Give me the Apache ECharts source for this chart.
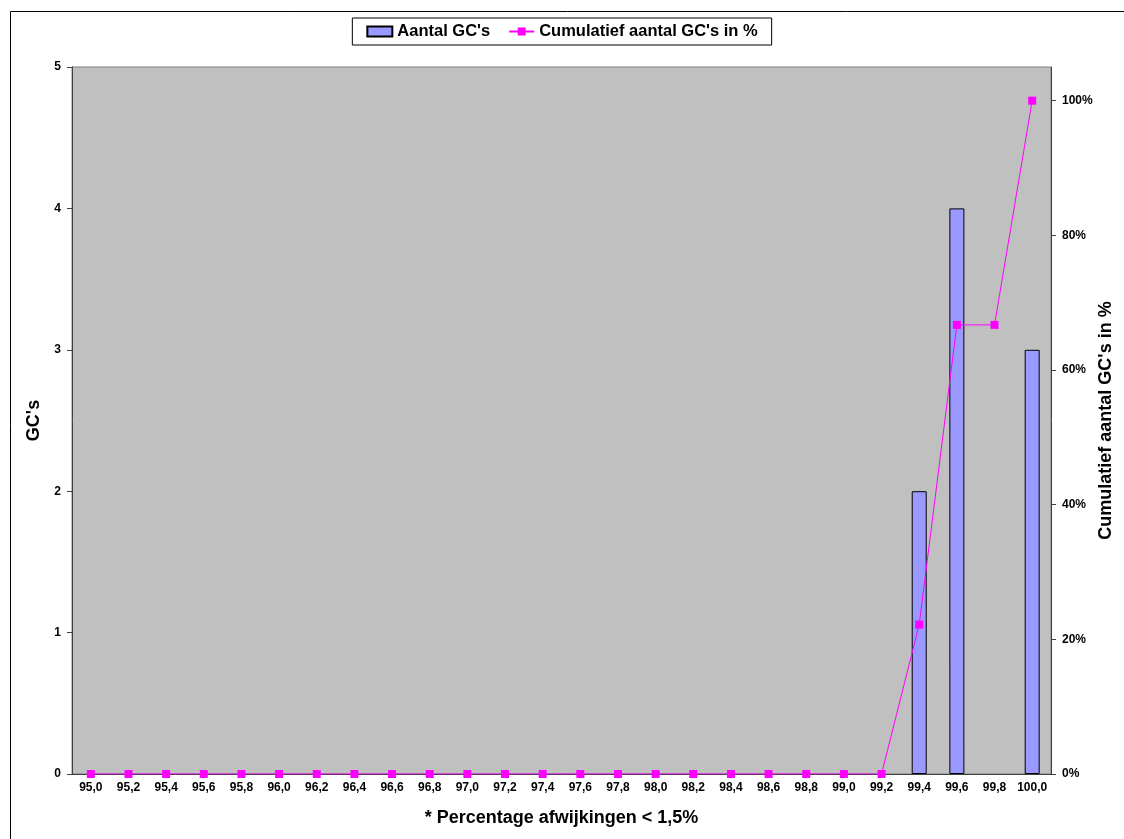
<!DOCTYPE html>
<html>
<head>
<meta charset="utf-8">
<script src="https://cdn.jsdelivr.net/npm/echarts@6/dist/echarts.min.js"></script>
<style>html,body{margin:0;padding:0;background:#fff;}#c{width:1124px;height:839px;}</style>
</head>
<body>
<div id="c"></div>
<script>
var categories = ['95,0','95,2','95,4','95,6','95,8','96,0','96,2','96,4','96,6','96,8','97,0','97,2','97,4','97,6','97,8','98,0','98,2','98,4','98,6','98,8','99,0','99,2','99,4','99,6','99,8','100,0'];
var counts = [0,0,0,0,0,0,0,0,0,0,0,0,0,0,0,0,0,0,0,0,0,0,2,4,0,3];
var cumulative = [0,0,0,0,0,0,0,0,0,0,0,0,0,0,0,0,0,0,0,0,0,0,22.2,66.7,66.7,100];
var leftTicks = [0,1,2,3,4,5];
var rightTicks = [0,20,40,60,80,100];

var FONT = 'Arial, "Liberation Sans", sans-serif';
var barData = counts.map(function(v){
  return v === 0 ? {value:v, itemStyle:{borderWidth:0}} : v;
});
var chart = echarts.init(document.getElementById('c'), null, {renderer:'canvas'});
chart.setOption({
  animation:false,
  backgroundColor:'#fff',
  graphic:[{type:'rect', shape:{x:10.5,y:11.5,width:1130,height:840}, style:{fill:'none',stroke:'#000',lineWidth:1}, silent:true, z:-10}],
  legend:{
    top:18, left:'center',
    padding:[5,14,5,14],
    borderColor:'#000', borderWidth:1,
    itemWidth:25, itemHeight:10, itemGap:18,
    textStyle:{fontFamily:FONT,fontWeight:'bold',fontSize:16.5,color:'#000'},
    data:[{name:"Aantal GC's",icon:'rect'},{name:"Cumulatief aantal GC's in %"}]
  },
  grid:{left:72,right:73,top:67,bottom:65,outerBoundsMode:'none',show:true,backgroundColor:'#c0c0c0',borderColor:'#808080',borderWidth:1},
  xAxis:{
    type:'category', data:categories, boundaryGap:true,
    name:'* Percentage afwijkingen < 1,5%', nameLocation:'middle', nameGap:35,
    nameTextStyle:{fontFamily:FONT,fontWeight:'bold',fontSize:18,color:'#000'},
    axisLine:{lineStyle:{color:'#404040',width:1}},
    axisTick:{interval:0,length:5,lineStyle:{color:'#404040'}},
    axisLabel:{interval:0,fontFamily:FONT,fontWeight:'bold',fontSize:12,color:'#000',margin:8}
  },
  yAxis:[{
    type:'value', min:0, max:5, interval:1,
    name:"GC's", nameLocation:'middle', nameGap:26,
    nameTextStyle:{fontFamily:FONT,fontWeight:'bold',fontSize:18,color:'#000'},
    axisLine:{show:true,lineStyle:{color:'#404040'}},
    axisTick:{show:true,length:5,lineStyle:{color:'#404040'}},
    splitLine:{show:false},
    axisLabel:{fontFamily:FONT,fontWeight:'bold',fontSize:12,color:'#000',margin:11}
  },{
    type:'value', min:0, max:105, position:'right',
    name:"Cumulatief aantal GC's in %", nameLocation:'middle', nameGap:46, nameMoveOverlap:false,
    nameTextStyle:{fontFamily:FONT,fontWeight:'bold',fontSize:18,color:'#000'},
    axisLine:{show:true,lineStyle:{color:'#404040'}},
    axisTick:{show:true,length:5,customValues:rightTicks,lineStyle:{color:'#404040'}},
    splitLine:{show:false},
    axisLabel:{customValues:rightTicks,formatter:'{value}%',fontFamily:FONT,fontWeight:'bold',fontSize:12,color:'#000',margin:11}
  }],
  series:[{
    name:"Aantal GC's", type:'bar', yAxisIndex:0, data:barData, barWidth:15,
    itemStyle:{color:'#9999ff',borderColor:'#000',borderWidth:1}
  },{
    name:"Cumulatief aantal GC's in %", type:'line', yAxisIndex:1, data:cumulative,
    symbol:'rect', symbolSize:8, showSymbol:true,
    itemStyle:{color:'#ff00ff'}, lineStyle:{color:'#ff00ff',width:1}
  }]
});
</script>
</body>
</html>
